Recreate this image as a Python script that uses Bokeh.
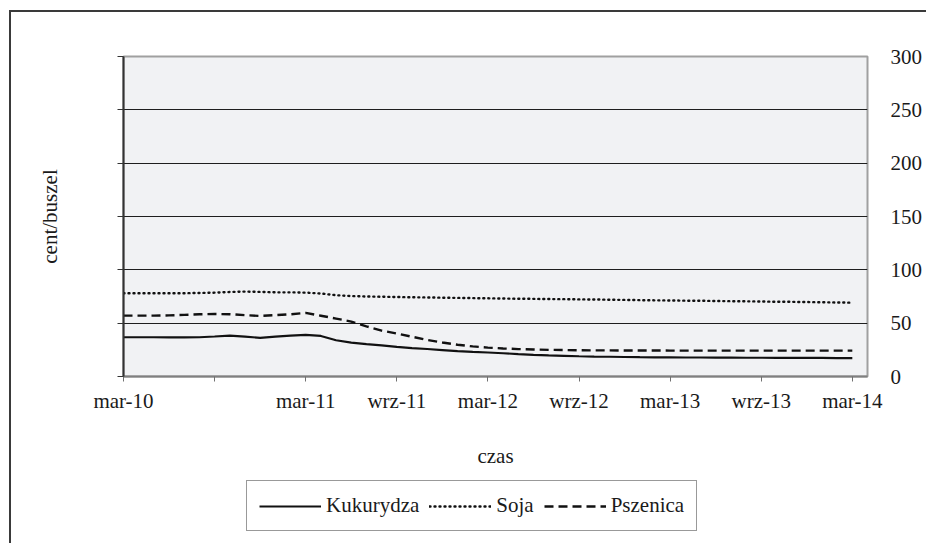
from bokeh.plotting import figure
from bokeh.layouts import column
from bokeh.models import (Range1d, LinearAxis, FixedTicker, Legend, LegendItem)
from bokeh.embed import file_html
from bokeh.resources import INLINE

# ---- data (month index 0 = mar-10 ... 48 = mar-14) ----
MONTHS = list(range(49))

KUKURYDZA = [36.8, 36.8, 36.8, 36.6, 36.7, 36.8, 37.5, 38.3, 37.3, 36.3, 37.3, 38.3, 39.0,
             38.0, 34.0, 31.8, 30.3, 29.2, 27.7, 26.6, 25.8, 24.8, 23.8, 23.1, 22.5,
             21.8, 21.0, 20.3, 19.8, 19.4, 19.0, 18.7, 18.5, 18.3,
             18.1, 18.0, 17.9, 17.8, 17.8, 17.7, 17.7, 17.6, 17.6, 17.5, 17.5, 17.4, 17.4, 17.3, 17.3]

SOJA = [78.0, 78.0, 78.0, 78.0, 78.1, 78.3, 78.6, 79.2, 79.6, 79.3, 78.9, 78.9, 78.6,
        77.8, 76.2, 75.4, 75.0, 74.8, 74.5, 74.3, 74.1, 73.9, 73.7, 73.5, 73.3,
        73.1, 72.9, 72.8, 72.6, 72.5, 72.3, 72.2, 72.0, 71.8, 71.6, 71.4, 71.3,
        71.1, 71.0, 70.8, 70.6, 70.5, 70.3, 70.1, 70.0, 69.8, 69.6, 69.4, 69.2]

PSZENICA = [57.1, 57.1, 57.1, 57.3, 57.8, 58.3, 58.6, 58.4, 57.5, 56.8, 57.5, 58.3, 59.6,
            57.0, 54.3, 51.5, 47.0, 43.0, 40.3, 37.3, 34.3, 31.9, 29.8, 28.2, 27.1,
            26.3, 25.7, 25.3, 25.0, 24.8, 24.6,
            24.5, 24.5, 24.4, 24.4, 24.4, 24.3, 24.3, 24.3, 24.3, 24.3, 24.3, 24.3,
            24.3, 24.3, 24.3, 24.3, 24.3, 24.3]

SERIES_NAMES = ["Kukurydza", "Soja", "Pszenica"]

X_TICKS = [0, 12, 18, 24, 30, 36, 42, 48]
X_TICK_LABELS = ["mar-10", "mar-11", "wrz-11", "mar-12", "wrz-12", "mar-13", "wrz-13", "mar-14"]
X_UNLABELED_TICKS = [6]
Y_TICKS = [0, 50, 100, 150, 200, 250, 300]

FONT = "Liberation Serif"
FS = "21px"
INK = "#111111"
STYLES = [dict(line_color=INK, line_width=2.2),
          dict(line_color=INK, line_width=2.4, line_dash="1 4", line_cap="round"),
          dict(line_color=INK, line_width=2.4, line_dash="9 5")]

p = figure(output_backend="svg", toolbar_location=None,
           frame_width=744, frame_height=320,
           min_border_left=112, min_border_right=61,
           min_border_top=44, min_border_bottom=92,
           x_range=Range1d(0, 49), y_range=Range1d(0, 300),
           background_fill_color="#f1f2f4", border_fill_color="white")

p.outline_line_color = "#a0a0a0"
p.outline_line_width = 2

# grid
p.xgrid.visible = False
p.ygrid.ticker = FixedTicker(ticks=Y_TICKS)
p.ygrid.grid_line_color = "#1e1e1e"
p.ygrid.grid_line_width = 1

# left axis: ticks only (as minor ticks, no labels), with axis title
ly = p.yaxis[0]
ly.ticker = FixedTicker(ticks=[], minor_ticks=Y_TICKS)
ly.minor_tick_out = 6
ly.minor_tick_in = 0
ly.minor_tick_line_color = "#333333"
ly.major_tick_out = 6
ly.major_tick_in = 0
ly.axis_line_color = "#333333"
ly.axis_line_width = 2
ly.major_label_standoff = 0
ly.axis_label = "cent/buszel"
ly.axis_label_text_font = FONT
ly.axis_label_text_font_size = FS
ly.axis_label_text_font_style = "normal"
ly.axis_label_text_color = "#1a1a1a"
ly.axis_label_standoff = 56

# right axis: labels only
ry = LinearAxis(ticker=FixedTicker(ticks=Y_TICKS))
ry.minor_tick_line_color = None
ry.major_tick_line_color = None
ry.axis_line_color = None
ry.major_label_standoff = 17
ry.major_label_text_font = FONT
ry.major_label_text_font_size = FS
ry.major_label_text_color = "#1a1a1a"
p.add_layout(ry, "right")

# bottom axis
bx = p.xaxis[0]
bx.ticker = FixedTicker(ticks=X_TICKS, minor_ticks=X_UNLABELED_TICKS)
bx.major_label_overrides = {t: lab for t, lab in zip(X_TICKS, X_TICK_LABELS)}
bx.minor_tick_out = 5
bx.minor_tick_in = 0
bx.minor_tick_line_color = "#707070"
bx.major_tick_out = 5
bx.major_tick_in = 0
bx.major_tick_line_color = "#707070"
bx.axis_line_color = "#808080"
bx.axis_line_width = 2
bx.major_label_text_font = FONT
bx.major_label_text_font_size = FS
bx.major_label_text_color = "#1a1a1a"
bx.major_label_standoff = 7
bx.axis_label = "czas"
bx.axis_label_text_font = FONT
bx.axis_label_text_font_size = FS
bx.axis_label_text_font_style = "normal"
bx.axis_label_text_color = "#1a1a1a"
bx.axis_label_standoff = 28

# lines
SERIES = [KUKURYDZA, SOJA, PSZENICA]
for ys, st in zip(SERIES, STYLES):
    p.line(MONTHS, ys, **st)

# legend strip (separate figure under the chart; its data lie outside its ranges)
leg = figure(output_backend="svg", toolbar_location=None,
             width=917, height=75, min_border=0,
             x_axis_type=None, y_axis_type=None,
             x_range=Range1d(-100, -99), y_range=Range1d(-100, -99),
             background_fill_color="white", border_fill_color="white")
leg.outline_line_color = None
leg.xgrid.visible = False
leg.ygrid.visible = False
leg_renderers = [leg.line(MONTHS, ys, **st) for ys, st in zip(SERIES, STYLES)]

legend = Legend(items=[LegendItem(label=n, renderers=[r]) for n, r in zip(SERIES_NAMES, leg_renderers)],
                orientation="horizontal", location=(123, 14),
                padding=12, margin=0, spacing=10,
                glyph_width=62, label_standoff=5,
                label_text_font=FONT, label_text_font_size=FS, label_text_color="#1a1a1a",
                border_line_color="#333333", border_line_width=1,
                background_fill_color="white", background_fill_alpha=1)
leg.add_layout(legend, "center")

layout = column(p, leg, spacing=0,
                styles={"box-shadow": "-2px -2px 0px 0px #3a3a3a",
                        "margin-top": "12px", "margin-left": "11px"})

open("out.html", "w").write(file_html(layout, INLINE))
